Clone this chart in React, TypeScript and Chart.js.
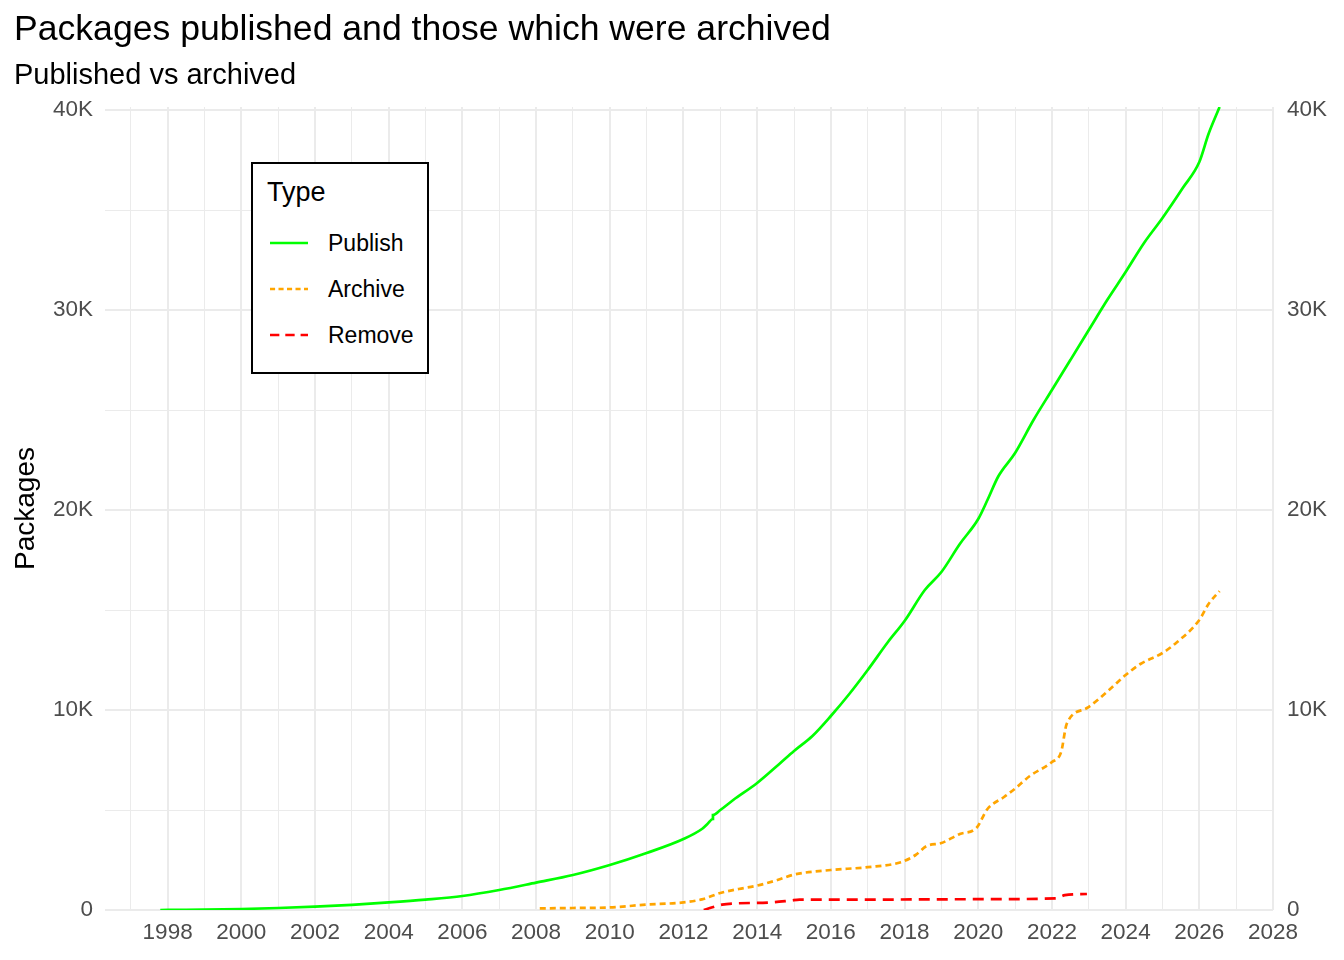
import { useEffect, useRef } from "react"
import { Chart, registerables } from "chart.js"

Chart.register(...registerables)

// Cumulative package counts (x = decimal year)
const publishYears = [
  1997.8, 1998.5, 1999, 2000, 2001, 2002, 2003, 2004, 2005, 2006, 2007, 2008, 2009, 2010, 2011,
  2012, 2012.5, 2012.65, 2012.8, 2012.8, 2013, 2013.35, 2014, 2014.6, 2015, 2015.5, 2016, 2016.5, 2017,
  2017.55, 2018, 2018.55, 2019, 2019.5, 2020, 2020.25, 2020.55, 2021, 2021.5, 2022, 2022.5,
  2023, 2023.5, 2024, 2024.5, 2025, 2025.55, 2026, 2026.25, 2026.55,
]
const publishValues = [
  0, 10, 20, 50, 100, 170, 260, 380, 520, 700, 1000, 1370, 1750, 2250, 2850,
  3550, 4050, 4300, 4550, 4750, 5000, 5500, 6350, 7300, 7950, 8700, 9700, 10800, 12000,
  13400, 14450, 16000, 16900, 18300, 19550, 20500, 21700, 22850, 24500, 26000, 27500,
  29000, 30500, 31900, 33350, 34600, 36100, 37400, 38800, 40150,
]

const archiveYears = [
  2008.1, 2009, 2010, 2011, 2012, 2012.5, 2013, 2013.5, 2014, 2014.55, 2015, 2016, 2017,
  2017.9, 2018.3, 2018.6, 2019, 2019.5, 2019.95, 2020.25, 2020.7, 2021, 2021.4, 2022,
  2022.25, 2022.4, 2022.95, 2023.55, 2024, 2024.4, 2025, 2025.4, 2026, 2026.25, 2026.55,
]
const archiveValues = [
  80, 100, 130, 270, 380, 530, 850, 1050, 1220, 1500, 1770, 2000, 2140,
  2390, 2750, 3200, 3350, 3800, 4100, 5050, 5650, 6070, 6700, 7400,
  7900, 9300, 10100, 11000, 11750, 12300, 12850, 13400, 14500, 15300, 15950,
]

const removeYears = [2012.55, 2013.05, 2013.4, 2014.3, 2014.9, 2015.15, 2017, 2020, 2022.1, 2022.35, 2022.95]
const removeValues = [0, 270, 330, 370, 470, 520, 520, 540, 580, 740, 800]

const seriesNames = ["Publish", "Archive", "Remove"]
const yGridValues = [0, 5000, 10000, 15000, 20000, 25000, 30000, 35000, 40000]
const yTickValues = [0, 10000, 20000, 30000, 40000]
const yTickLabels = ["0", "10K", "20K", "30K", "40K"]

const seriesStyle = [
  { color: "#00ff00", dash: [] as number[] },
  { color: "#ffa500", dash: [6, 4] },
  { color: "#ff0000", dash: [11, 7] },
]

const FONT = "'Liberation Sans', Arial, Helvetica, sans-serif"

function toPoints(xs: number[], ys: number[]) {
  return xs.map((x, i) => ({ x, y: ys[i] }))
}

function yLabel(v: number) {
  const i = yTickValues.indexOf(v)
  return i >= 0 ? yTickLabels[i] : ""
}

function PackagesChart() {
  const chartRef = useRef<HTMLCanvasElement>(null)
  const chartInstance = useRef<Chart | null>(null)

  useEffect(() => {
    if (!chartRef.current) return
    if (chartInstance.current) chartInstance.current.destroy()
    const ctx = chartRef.current.getContext("2d")
    if (!ctx) return

    const data = [
      toPoints(publishYears, publishValues),
      toPoints(archiveYears, archiveValues),
      toPoints(removeYears, removeValues),
    ]

    const tickFont = { family: FONT, size: 22.5 }
    const setYTicks = (s: any) => {
      s.ticks = yGridValues.map((value) => ({ value }))
    }

    chartInstance.current = new Chart(ctx, {
      type: "line",
      data: {
        datasets: data.map((d, i) => ({
          label: seriesNames[i],
          data: d,
          borderColor: seriesStyle[i].color,
          backgroundColor: seriesStyle[i].color,
          borderDash: seriesStyle[i].dash,
          borderWidth: 2.7,
          borderCapStyle: "butt",
          pointRadius: 0,
          cubicInterpolationMode: "monotone",
          yAxisID: "y",
        })),
      },
      options: {
        responsive: true,
        maintainAspectRatio: false,
        animation: false,
        layout: { padding: { left: 14, right: 0, top: 0, bottom: 0 } },
        plugins: {
          legend: { display: false },
          tooltip: { enabled: false },
          title: {
            display: true,
            text: "Packages published and those which were archived",
            align: "start",
            color: "#000",
            font: { family: FONT, size: 35.6, weight: "normal", lineHeight: 1.2 },
            padding: { top: 9, bottom: 0 },
          },
          subtitle: {
            display: true,
            text: "Published vs archived",
            align: "start",
            color: "#000",
            font: { family: FONT, size: 29, weight: "normal", lineHeight: 1.2 },
            padding: { top: 7, bottom: 13.5 },
          },
        },
        scales: {
          x: {
            type: "linear",
            min: 1996.3,
            max: 2028,
            border: { display: false },
            grid: {
              color: "#ebebeb",
              drawTicks: false,
              lineWidth: (c: any) => (Math.round(c.tick.value) % 2 === 0 ? 2 : 1),
            },
            ticks: {
              stepSize: 1,
              includeBounds: false,
              autoSkip: false,
              maxRotation: 0,
              padding: 9,
              color: "#4d4d4d",
              font: tickFont,
              callback: (v: any) => (Number(v) % 2 === 0 ? String(v) : ""),
            },
            afterFit: (s: any) => {
              s.height = 50
            },
          },
          y: {
            position: "left",
            min: 0,
            max: 40150,
            border: { display: false },
            grid: {
              color: "#ebebeb",
              drawTicks: false,
              lineWidth: (c: any) => (c.tick.value % 10000 === 0 ? 2 : 1),
            },
            afterBuildTicks: setYTicks,
            ticks: {
              autoSkip: false,
              padding: 12,
              color: "#4d4d4d",
              font: tickFont,
              callback: (v: any) => yLabel(Number(v)),
            },
            title: {
              display: true,
              text: "Packages",
              color: "#000",
              font: { family: FONT, size: 28, lineHeight: 1.2 },
              padding: { top: -4.8, bottom: 0 },
            },
            afterFit: (s: any) => {
              s.width = 91
            },
          },
          yRight: {
            position: "right",
            min: 0,
            max: 40150,
            border: { display: false },
            grid: { display: false, drawTicks: false },
            afterBuildTicks: setYTicks,
            ticks: {
              autoSkip: false,
              padding: 14,
              color: "#4d4d4d",
              font: tickFont,
              callback: (v: any) => yLabel(Number(v)),
            },
            afterFit: (s: any) => {
              s.width = 71
            },
          },
        },
      },
    } as any)

    return () => {
      if (chartInstance.current) {
        chartInstance.current.destroy()
        chartInstance.current = null
      }
    }
  }, [])

  return <canvas ref={chartRef} />
}

function Legend() {
  const rows = [81, 127, 173]
  return (
    <div
      style={{
        position: "absolute",
        left: 251,
        top: 162,
        width: 178,
        height: 212,
        boxSizing: "border-box",
        border: "2px solid #000",
        background: "#fff",
        fontFamily: FONT,
        color: "#000",
      }}
    >
      <div style={{ position: "absolute", left: 14, top: 28 - 17, fontSize: 27, lineHeight: "34px" }}>Type</div>
      {seriesNames.map((name, i) => (
        <div key={name}>
          <svg
            width={38}
            height={6}
            style={{ position: "absolute", left: 17, top: rows[i] - 2 - 3 }}
          >
            <line
              x1={0}
              y1={3}
              x2={38}
              y2={3}
              stroke={seriesStyle[i].color}
              strokeWidth={2.6}
              strokeDasharray={seriesStyle[i].dash.length ? seriesStyle[i].dash.map((d) => d * 0.85).join(" ") : undefined}
            />
          </svg>
          <div
            style={{
              position: "absolute",
              left: 75,
              top: rows[i] - 2 - 14,
              fontSize: 23,
              lineHeight: "28px",
              whiteSpace: "nowrap",
            }}
          >
            {name}
          </div>
        </div>
      ))}
    </div>
  )
}

export default function App() {
  return (
    <div style={{ position: "absolute", left: 0, top: 0, width: 1344, height: 960, background: "#fff" }}>
      <PackagesChart />
      <Legend />
    </div>
  )
}
